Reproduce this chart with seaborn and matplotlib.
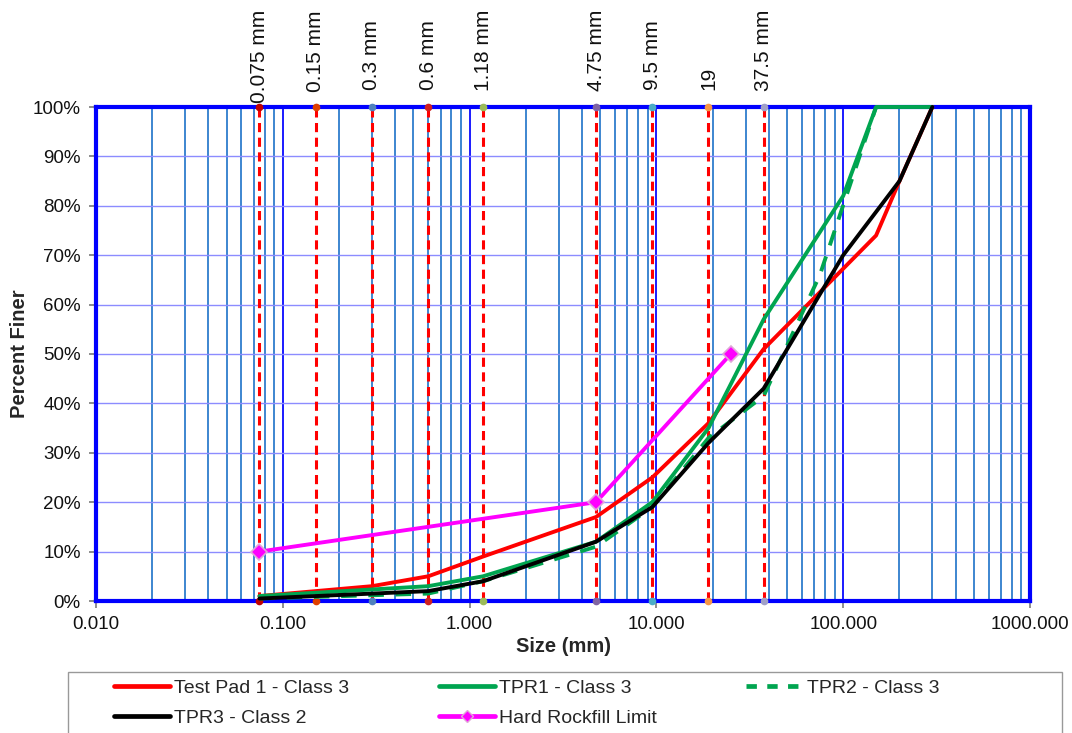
import numpy as np
import pandas as pd
import matplotlib
matplotlib.use("Agg")
import matplotlib.pyplot as plt
import seaborn as sns
from matplotlib.lines import Line2D
from matplotlib.patches import Rectangle

# Gradation data (size in mm, percent finer)
tp1_size = [0.075, 0.15, 0.3, 0.6, 1.18, 4.75, 9.5, 19, 37.5, 150, 200, 300]
tp1_pct = [1, 2, 3, 5, 9, 17, 25, 36, 51, 74, 85, 100]

tpr1_size = [0.075, 0.6, 1.18, 4.75, 9.5, 19, 37.5, 100, 150, 300]
tpr1_pct = [1, 3, 5, 12, 20, 35, 57, 82, 100, 100]

tpr2_size = [0.075, 0.6, 1.18, 4.75, 9.5, 19, 37.5, 75, 150]
tpr2_pct = [0.5, 1.5, 4, 11, 19, 33, 41.5, 66, 100]

tpr3_size = [0.075, 0.6, 1.18, 4.75, 9.5, 19, 37.5, 100, 200, 300]
tpr3_pct = [0.5, 2, 4, 12, 19, 32, 43, 70, 85, 100]

hrl_size = [0.075, 4.75, 25]
hrl_pct = [10, 20, 50]

sieve_sizes = [0.075, 0.15, 0.3, 0.6, 1.18, 4.75, 9.5, 19, 37.5]
sieve_labels = ["0.075 mm", "0.15 mm", "0.3 mm", "0.6 mm", "1.18 mm",
                "4.75 mm", "9.5 mm", "19", "37.5 mm"]
sieve_marker_colors = ["#c00000", "#e04000", "#4f81bd", "#d02020", "#9bbb59",
                       "#8064a2", "#4bacc6", "#f79646", "#a0a0c8"]

x_ticks = [0.01, 0.1, 1, 10, 100, 1000]
y_ticks = list(range(0, 101, 10))

sns.set_theme(style="white")
plt.rcParams['font.family'] = ['Liberation Sans', 'DejaVu Sans']

W, H = 1072, 733
fig = plt.figure(figsize=(W / 100, H / 100), dpi=100)
ax = fig.add_axes([96 / W, 1 - 601 / H, (1030 - 96) / W, (601 - 107) / H])
ax.set_xscale("log")
ax.set_xlim(0.01, 1000)
ax.set_ylim(0, 100)

# grid lines
for dec in [0.01, 0.1, 1, 10, 100]:
    for m in range(2, 10):
        ax.axvline(dec * m, color="#3d86d0", lw=1.4, zorder=1)
for v in [0.1, 1, 10, 100]:
    ax.axvline(v, color="#1a1aff", lw=1.4, zorder=1)
for y in y_ticks[1:-1]:
    ax.axhline(y, color="#8c8cff", lw=1.0, zorder=1)

# sieve lines
for s, c in zip(sieve_sizes, sieve_marker_colors):
    ax.plot([s, s], [0, 100], color="red", lw=2.2, ls=(0, (3, 1.8)), zorder=2)
    ax.plot([s, s], [0, 100], ls="none", marker="o", ms=4.5, color=c,
            clip_on=False, zorder=8)
sieve_texts = []
for s, lab in zip(sieve_sizes, sieve_labels):
    t = ax.annotate(lab, xy=(s, 100), xycoords="data", xytext=(0, 12.5),
                    textcoords="offset points", rotation=90, ha="center",
                    va="bottom", fontsize=15, color="#111111")
    sieve_texts.append(t)

# gradation curves
lw = 2.8
n0 = len(ax.lines)
sns.lineplot(x=tp1_size, y=tp1_pct, ax=ax, color="#ff0000", lw=lw,
             sort=False, estimator=None)
sns.lineplot(x=tpr1_size, y=tpr1_pct, ax=ax, color="#00a550", lw=lw,
             sort=False, estimator=None)
sns.lineplot(x=tpr2_size, y=tpr2_pct, ax=ax, color="#00a550", lw=lw,
             sort=False, estimator=None)
ax.lines[-1].set_linestyle((0, (4, 3)))
sns.lineplot(x=tpr3_size, y=tpr3_pct, ax=ax, color="#000000", lw=lw,
             sort=False, estimator=None)
sns.lineplot(x=hrl_size, y=hrl_pct, ax=ax, color="#ff00ff", lw=lw,
             marker="D", markersize=8.5, markeredgecolor="#e0a8d8",
             markeredgewidth=1.2, sort=False, estimator=None)
for ln in ax.lines[n0:]:
    ln.set_clip_on(False)
    ln.set_zorder(9)

# axes styling
for sp in ax.spines.values():
    sp.set_color("#0000ff")
    sp.set_linewidth(3)
    sp.set_zorder(7)
ax.set_xticks(x_ticks)
ax.set_xticklabels(["%.3f" % v for v in x_ticks])
ax.set_xticks([], minor=True)
ax.set_yticks(y_ticks)
ax.set_yticklabels(["%d%%" % v for v in y_ticks])
ax.tick_params(axis="both", which="major", labelsize=13.5, length=5,
               color="#808080", direction="out", bottom=True, left=True,
               labelcolor="#111111")
ax.tick_params(axis="x", pad=6)
ax.tick_params(axis="y", pad=6)
ax.set_xlabel("Size (mm)", fontsize=14.5, fontweight="bold", labelpad=3)
ax.set_ylabel("Percent Finer", fontsize=14.5, fontweight="bold", labelpad=3)
ax.grid(False)

# keep the top labels inside the figure (push down if they stick out)
fig.canvas.draw()
for t in sieve_texts:
    bb = t.get_window_extent()
    over = bb.y1 - (H - 10)
    if over > 0:
        x0, y0 = t.get_position()
        t.set_position((x0, y0 - over * 72 / 100))

# legend
handles = [
    Line2D([], [], color="#ff0000", lw=3.4),
    Line2D([], [], color="#000000", lw=3.4),
    Line2D([], [], color="#00a550", lw=3.4),
    Line2D([], [], color="#ff00ff", lw=3.4, marker="D", markersize=6,
           markeredgecolor="#e0a8d8"),
    Line2D([], [], color="#00a550", lw=3.4, ls=(0, (2.2, 2.2))),
]
labels = ["Test Pad 1 - Class 3", "TPR3 - Class 2", "TPR1 - Class 3",
          "Hard Rockfill Limit", "TPR2 - Class 3"]
leg = fig.legend(handles, labels, loc="upper left", ncol=3,
                 bbox_to_anchor=(114 / W, 1 - 679 / H),
                 fontsize=14, frameon=False, borderpad=0, borderaxespad=0,
                 handlelength=2.9, handletextpad=0.2, labelspacing=0.65,
                 columnspacing=4.6)
fig.add_artist(Rectangle((68 / W, -0.01), (1062 - 68) / W, 1 - 672 / H + 0.01,
                         transform=fig.transFigure, fill=False,
                         edgecolor="#999999", lw=1.0))

fig.savefig("out.png", dpi=100)
